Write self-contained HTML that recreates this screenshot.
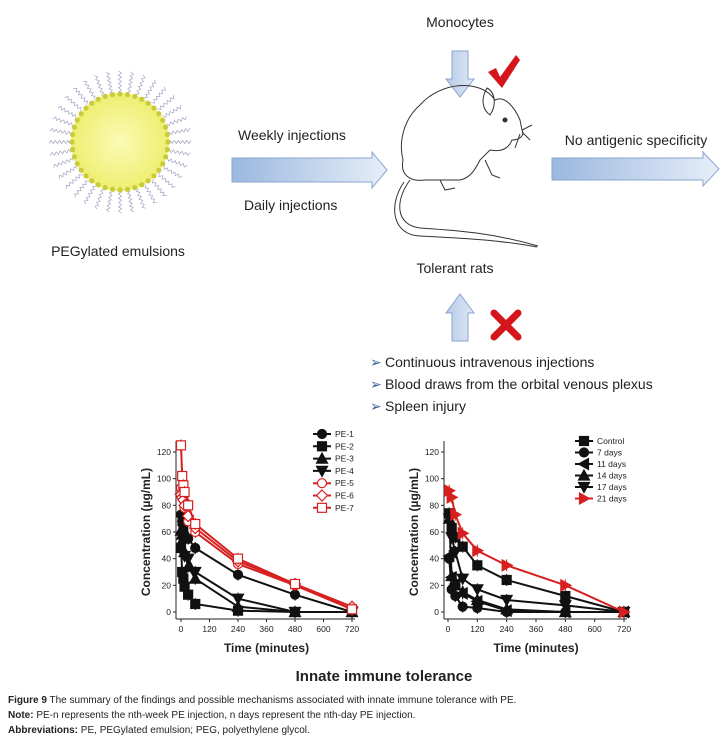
<!DOCTYPE html>
<html><head><meta charset="utf-8"><style>
body{margin:0;background:#fff;width:725px;height:739px;overflow:hidden;font-family:"Liberation Sans",Arial,sans-serif}
svg{position:absolute;left:0;top:0}
.cap{position:absolute;left:8px;font-size:10px;color:#222;white-space:nowrap}
</style></head><body>
<svg id="fig" width="725" height="739" viewBox="0 0 725 739">
<defs>
<radialGradient id="yel" cx="50%" cy="50%" r="50%"><stop offset="0" stop-color="#fbfbb6"/><stop offset="1" stop-color="#eeee70"/></radialGradient>
<linearGradient id="harr" x1="0" x2="1"><stop offset="0" stop-color="#9bb8df"/><stop offset="1" stop-color="#e6eef9"/></linearGradient>
<linearGradient id="varr" x1="0" x2="1"><stop offset="0" stop-color="#b6cbe8"/><stop offset="1" stop-color="#dfe8f5"/></linearGradient>
</defs>
<g id="emulsion"></g>
<text x="118" y="256" font-size="14" text-anchor="middle" fill="#222">PEGylated emulsions</text>
<text x="238" y="140" font-size="14" fill="#222">Weekly injections</text>
<path d="M232,158 H372 V152 L387,170 L372,188 V182 H232 Z" fill="url(#harr)" stroke="#8aa6cf"/>
<text x="244" y="210" font-size="14" fill="#222">Daily injections</text>
<text x="460" y="27" font-size="14" text-anchor="middle" fill="#222">Monocytes</text>
<path d="M452,51 H468 V79 H474 L460,97 L446,79 H452 Z" fill="url(#varr)" stroke="#8aa6cf"/>
<path d="M488,72 L496,68 L500,77 L516,55 L520,60 L502,88 Z" fill="#d4161c"/>
<g fill="none" stroke="#333" stroke-width="1">
<path d="M420,105 C440,82 480,78 495,100 C505,95 515,108 520,120 L522,130 C525,135 520,140 512,140 C508,150 500,152 490,150 L480,160 C475,170 470,178 460,180 L425,180 C410,182 400,175 403,160 C398,140 405,118 420,105 Z"/>
<path d="M487,88 C480,100 483,110 490,115 C497,105 495,92 487,88 Z"/>
<path d="M410,180 C395,200 395,225 420,228 C450,230 490,232 538,246"/>
<path d="M404,182 C388,205 392,235 420,236 C460,238 500,240 537,247"/>
<path d="M485,160 L492,175 L500,178 M440,180 L445,190 L455,188"/>
<circle cx="505" cy="120" r="2" fill="#333"/>
<path d="M522,130 L532,125 M522,132 L530,140 M520,134 L515,148"/>
</g>
<text x="455" y="273" font-size="14" text-anchor="middle" fill="#222">Tolerant rats</text>
<text x="636" y="145" font-size="14" text-anchor="middle" fill="#222">No antigenic specificity</text>
<path d="M552,158 H703 V152 L719,169 L703,186 V180 H552 Z" fill="url(#harr)" stroke="#8aa6cf"/>
<path d="M452,341 H468 V313 H474 L460,294 L446,313 H452 Z" fill="url(#varr)" stroke="#8aa6cf"/>
<g stroke="#d4161c" stroke-width="7" stroke-linecap="round"><line x1="494" y1="313" x2="518" y2="337"/><line x1="518" y1="313" x2="494" y2="337"/></g>
<g font-size="14" fill="#222">
<text x="370" y="367" fill="#3a5f9a">➢</text><text x="385" y="367">Continuous intravenous injections</text>
<text x="370" y="389" fill="#3a5f9a">➢</text><text x="385" y="389">Blood draws from the orbital venous plexus</text>
<text x="370" y="411" fill="#3a5f9a">➢</text><text x="385" y="411">Spleen injury</text>
</g>
<g id="chartL"></g>
<g id="chartR"></g>
<text x="384" y="681" font-size="15" font-weight="bold" text-anchor="middle" fill="#222">Innate immune tolerance</text>
</svg>
<div class="cap" style="top:695px"><b>Figure 9</b> The summary of the findings and possible mechanisms associated with innate immune tolerance with PE.</div>
<div class="cap" style="top:710px"><b>Note:</b> PE-n represents the nth-week PE injection, n days represent the nth-day PE injection.</div>
<div class="cap" style="top:725px"><b>Abbreviations:</b> PE, PEGylated emulsion; PEG, polyethylene glycol.</div>
<script>
const NS="http://www.w3.org/2000/svg";
function mk(p,t,a){const e=document.createElementNS(NS,t);for(const k in a)e.setAttribute(k,a[k]);p.appendChild(e);return e;}
// emulsion
const em=document.getElementById('emulsion');
for(let i=0;i<36;i++){const a=i/36*2*Math.PI;let d='';for(let s=0;s<=10;s++){const r=50+s*2.1,w=(s%2?1.5:-1.5);const x=120+r*Math.cos(a)-w*Math.sin(a),y=142+r*Math.sin(a)+w*Math.cos(a);d+=(s?'L':'M')+x.toFixed(1)+','+y.toFixed(1);}mk(em,'path',{d:d,fill:'none',stroke:'#a0a4c4','stroke-width':0.7});}
mk(em,'circle',{cx:120,cy:142,r:49,fill:'url(#yel)'});
for(let i=0;i<40;i++){const a=i/40*2*Math.PI;mk(em,'circle',{cx:120+48*Math.cos(a),cy:142+48*Math.sin(a),r:2.6,fill:'#c8cc3a'});}

// data
const timesL=[0,5,10,15,30,60,240,480,720];
const pe1=[73,68,62,58,55,48,28,13,0];
const pe2=[48,30,25,19,13,6,1,0,0];
const pe3=[61,58,55,45,34,25,4,0,0];
const pe4=[85,70,62,42,40,30,10,0,0];
const pe5=[93,88,85,78,68,60,36,20,2];
const pe6=[88,86,84,80,72,63,38,21,4];
const pe7=[125,102,95,90,80,66,40,21,2];
const namesL=['PE-1','PE-2','PE-3','PE-4','PE-5','PE-6','PE-7'];
const timesR=[5,15,30,60,120,240,480,720];
const ctrl=[74,63,56,49,35,24,12,0];
const d7=[40,17,12,4,3,0,0,0];
const d11=[42,26,21,14,8,1,0,0];
const d14=[70,27,20,15,9,2,0,0];
const d17=[70,56,45,25,17,9,5,0];
const d21=[91,86,73,59,46,35,20,0];
const namesR=['Control','7 days','11 days','14 days','17 days','21 days'];
const yTicks=[0,20,40,60,80,100,120];
const xTicks=[0,120,240,360,480,600,720];

function marker(g,sh,x,y,col,open){
  const f=open?'#fff':col,s=col,r=4.5;let e;
  if(sh==='circle')e=mk(g,'circle',{cx:x,cy:y,r:r});
  else if(sh==='square')e=mk(g,'rect',{x:x-r,y:y-r,width:2*r,height:2*r});
  else if(sh==='diamond')e=mk(g,'path',{d:`M${x},${y-r-1}L${x+r+1},${y}L${x},${y+r+1}L${x-r-1},${y}Z`});
  else{const pts={up:[[0,-5.5],[5.5,4.5],[-5.5,4.5]],down:[[0,5.5],[5.5,-4.5],[-5.5,-4.5]],left:[[-5.5,0],[4.5,-5.5],[4.5,5.5]],right:[[5.5,0],[-4.5,-5.5],[-4.5,5.5]]}[sh];
    e=mk(g,'path',{d:'M'+pts.map(p=>(x+p[0])+','+(y+p[1])).join('L')+'Z'});}
  e.setAttribute('fill',f);e.setAttribute('stroke',s);e.setAttribute('stroke-width',1.2);
}
function chart(id,o,times,series,names,shapes,cols,opens,leg){
  const g=document.getElementById(id);
  const X=v=>o.x0+(v/720)*(o.x1-o.x0), Y=v=>o.y0-(v/120)*(o.y0-o.y1);
  mk(g,'line',{x1:o.ax,y1:o.top,x2:o.ax,y2:o.xa,stroke:'#222','stroke-width':1});
  mk(g,'line',{x1:o.ax,y1:o.xa,x2:X(720)+3,y2:o.xa,stroke:'#222','stroke-width':1});
  yTicks.forEach(v=>{mk(g,'line',{x1:o.ax-3,x2:o.ax,y1:Y(v),y2:Y(v),stroke:'#222'});const t=mk(g,'text',{x:o.ax-5,y:Y(v)+3,'font-size':8.5,'text-anchor':'end',fill:'#222'});t.textContent=v;});
  xTicks.forEach(v=>{mk(g,'line',{x1:X(v),x2:X(v),y1:o.xa,y2:o.xa+3,stroke:'#222'});const t=mk(g,'text',{x:X(v),y:o.xa+13,'font-size':8.5,'text-anchor':'middle',fill:'#222'});t.textContent=v;});
  const xt=mk(g,'text',{x:(X(0)+X(720))/2,y:o.xa+33,'font-size':12,'font-weight':'bold','text-anchor':'middle',fill:'#222'});xt.textContent='Time (minutes)';
  
  
  const yt=mk(g,'text',{x:0,y:0,'font-size':12,'font-weight':'bold','text-anchor':'middle',fill:'#222',transform:`translate(${o.ax-26},${(Y(0)+Y(120))/2}) rotate(-90)`});yt.textContent='Concentration (µg/mL)';
  
  
  series.forEach((s,i)=>{
    const sg=mk(g,'g',{});
    
    
    mk(sg,'polyline',{points:s.map((v,j)=>X(times[j])+','+Y(v)).join(' '),fill:'none',stroke:cols[i],'stroke-width':2});
    s.forEach((v,j)=>{mk(sg,'line',{x1:X(times[j]),x2:X(times[j]),y1:Y(v)-6,y2:Y(v)+6,stroke:cols[i],'stroke-width':1});marker(sg,shapes[i],X(times[j]),Y(v),cols[i],opens[i]);});
    const ly=leg.y+i*leg.dy;
    const lg=mk(g,'g',{});
    
    
    mk(lg,'line',{x1:leg.x,x2:leg.x+18,y1:ly,y2:ly,stroke:cols[i],'stroke-width':2});
    marker(lg,shapes[i],leg.x+9,ly,cols[i],opens[i]);
    const t=mk(lg,'text',{x:leg.x+22,y:ly+3,'font-size':8.5,fill:'#222'});t.textContent=names[i];
  });
}
const K='#111',R='#d62020';
chart('chartL',{x0:181,x1:352,y0:612,y1:452,ax:176,xa:619,top:441},timesL,[pe1,pe2,pe3,pe4,pe5,pe6,pe7],namesL,
 ['circle','square','up','down','circle','diamond','square'],[K,K,K,K,R,R,R],[0,0,0,0,1,1,1],{x:313,y:434,dy:12.3});
chart('chartR',{x0:448,x1:624,y0:612,y1:452,ax:444,xa:619,top:441},timesR,[ctrl,d7,d11,d14,d17,d21],namesR,
 ['square','circle','left','up','down','right'],[K,K,K,K,K,R],[0,0,0,0,0,0],{x:575,y:441,dy:11.5});
</script>
</body></html>
